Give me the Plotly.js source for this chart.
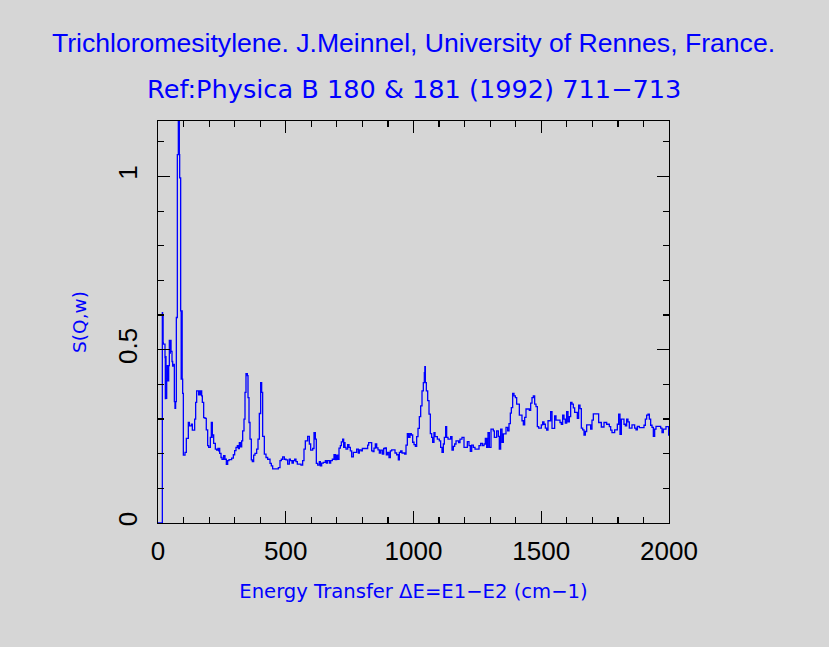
<!DOCTYPE html>
<html>
<head>
<meta charset="utf-8">
<script src="https://cdn.plot.ly/plotly-3.0.1.min.js"></script>
<style>
html,body{margin:0;padding:0;background:#d6d6d6;}
#chart{width:829px;height:647px;}
</style>
</head>
<body>
<div id="chart"></div>
<script>
// Energy transfer (cm-1), start of each step
const energy = [
0,17,18,19,20,21,27.4,28.7,30,31.3,34,36.5,39,41.8,44.4,47,48.3,51,54.8,57.4,60,64,66.5,69,71.8,75.7,79.6,80.9,82.2,83.5,84.8,88.7,90.7,92.6,94.6,96.5,99.2,
105.7,110.9,118.7,122.6,130.5,134.4,143.5,147.4,151.3,159.2,161.8,164.4,167,171,173.5,178.7,184,189,194.4,198.3,204.8,208.7,210.7,212,212.7,217.9,224.4,229.6,234.8,237.5,238.8,241.4,246.6,250.5,257,262.2,267.5,272.7,277.9,288.3,294.9,
300,305.3,310.5,314.4,318.3,323.5,327.5,331.4,336.6,340.5,344.4,349.6,352.3,356.2,360.1,365.3,369.2,374.4,379.6,386.2,391.4,396.6,401.8,405.7,409.6,416.2,422.7,429.2,438.4,443.6,448.8,471,477.5,482.7,488,494.4,
501,507.5,514,518,524.5,529.7,535,540,545.3,559.7,566.2,571.4,576.6,585.8,592.3,597.5,605.4,610.6,615.8,619.7,625,631.5,635.4,640.6,647.1,655,658.9,662.8,670.6,675.8,682.3,688.9,694.1,699.3,
703.2,708.4,713.7,717.6,722.8,726.7,729.3,731.9,735.8,742.4,747.6,752.8,758,764.5,777.6,784.1,788,794.5,799.8,820.6,824.5,836.3,841.5,845.4,850.6,855.9,861.1,866.3,871.5,878,883.3,888.5,893.7,898.9,
904.1,909.4,914.6,927.6,934.1,940.7,944.6,949.8,955,965.5,970.7,975.9,981.1,986.3,991.5,996.8,1002,1007.2,1012.4,1017.6,1022.9,1028.1,1033.3,1038.5,1042.4,1044.4,1046.4,1050.3,1055.5,1060.7,1065.9,1071.1,1075,1080.2,1084.2,1093.3,
1101.1,1106.3,1111.6,1116.8,1120.7,1125.9,1129.8,1135.1,1145.5,1150.7,1155.9,1161.1,1166.4,1176.8,1182,1189.8,1197.7,1210.7,1217.2,1222.4,1227.7,1234.2,1240.7,1256.4,1262.9,1269.4,1276,1281.2,1286.4,1291.6,1296.8,
1303.4,1312.4,1316.4,1325.5,1332,1335.9,1341.1,1346.4,1351.6,1362,1368.5,1373.8,1379,1382.9,1388.1,1393.3,1398.6,1403.8,1414.2,1424.6,1429.9,1435.1,1440.3,1453.3,1458.6,1463.8,1469,1474.2,1479.4,1484.7,1489.9,
1500.3,1505.5,1510.7,1516,1521.2,1526.4,1536.8,1542.1,1552.5,1557.7,1573.4,1578.6,1583.8,1589,1594.2,1599.5,1604.7,1609.9,1615.1,1620.3,1625.6,1630.8,1641.2,1646.4,1651.7,1656.9,1662.1,1667.3,1672.5,1677.8,1693.4,1698.6,
1703.8,1724.7,1735.1,1745.6,1756,1766.4,1771.7,1776.9,1787.3,1797.8,1803,1808.2,1813.4,1823.8,1829.1,1834.3,1839.5,1844.7,1855.2,1865.6,1870.8,1876,1883.9,
1902.1,1907.4,1912.6,1917.8,1923,1928.2,1933.5,1938.7,1943.9,1949.1,1967.4,1972.6,1977.8,1988.2,1998.7,2005
];
// S(Q,w) value of each step
const sqw = [
0,0.607,0.52,0.60,0.52,0.516,0.477,0.359,0.48,0.36,0.41,0.454,0.41,0.454,0.527,0.49,0.527,0.495,0.466,0.453,0.458,0.35,0.331,0.35,0.593,1.063,1.25,1.063,1.25,1.063,0.996,0.612,0.415,0.612,0.415,0.374,0.196,
0.204,0.244,0.29,0.28,0.285,0.268,0.3,0.348,0.381,0.37,0.381,0.37,0.381,0.367,0.348,0.304,0.302,0.269,0.223,0.218,0.247,0.29,0.247,0.29,0.254,0.23,0.213,0.21,0.215,0.208,0.215,0.201,0.189,0.184,0.194,0.184,0.169,0.18,0.183,0.187,0.197,
0.209,0.218,0.223,0.215,0.232,0.22,0.237,0.266,0.3,0.377,0.431,0.425,0.362,0.29,0.242,0.182,0.177,0.196,0.201,0.213,0.242,0.316,0.405,0.377,0.25,0.199,0.189,0.184,0.172,0.165,0.156,0.16,0.18,0.184,0.191,0.184,
0.182,0.17,0.184,0.18,0.173,0.18,0.184,0.177,0.17,0.167,0.18,0.213,0.237,0.25,0.228,0.21,0.215,0.261,0.242,0.172,0.167,0.177,0.165,0.173,0.175,0.18,0.173,0.18,0.173,0.18,0.184,0.197,0.183,0.196,
0.184,0.216,0.223,0.234,0.242,0.218,0.232,0.218,0.213,0.226,0.218,0.208,0.191,0.204,0.213,0.202,0.211,0.208,0.215,0.225,0.232,0.208,0.206,0.216,0.228,0.217,0.211,0.202,0.21,0.199,0.215,0.217,0.197,0.204,
0.189,0.208,0.211,0.202,0.197,0.182,0.204,0.208,0.202,0.199,0.225,0.258,0.247,0.258,0.254,0.233,0.226,0.221,0.249,0.273,0.307,0.338,0.381,0.405,0.434,0.451,0.405,0.381,0.353,0.314,0.258,0.247,0.233,0.261,0.249,0.242,
0.237,0.218,0.204,0.228,0.247,0.278,0.247,0.242,0.249,0.21,0.221,0.228,0.237,0.232,0.242,0.247,0.218,0.235,0.223,0.207,0.225,0.218,0.213,0.223,0.23,0.223,0.228,0.244,0.218,0.261,0.218,
0.271,0.266,0.247,0.266,0.25,0.213,0.271,0.233,0.257,0.276,0.266,0.287,0.317,0.333,0.374,0.367,0.362,0.343,0.311,0.295,0.283,0.305,0.329,0.325,0.346,0.362,0.367,0.343,0.336,0.278,0.274,
0.283,0.292,0.285,0.274,0.268,0.295,0.321,0.273,0.309,0.297,0.29,0.285,0.311,0.3,0.288,0.321,0.292,0.307,0.348,0.343,0.332,0.319,0.302,0.34,0.33,0.274,0.269,0.254,0.264,0.283,0.271,0.297,
0.315,0.29,0.277,0.29,0.285,0.278,0.268,0.261,0.269,0.285,0.314,0.256,0.3,0.285,0.28,0.3,0.292,0.274,0.283,0.274,0.269,0.279,0.275,
0.282,0.3,0.311,0.314,0.3,0.282,0.276,0.25,0.271,0.279,0.274,0.261,0.271,0.278,0.254,0.254
];
const xTickVals = [0,500,1000,1500,2000];
const xTickText = ['0','500','1000','1500','2000'];
const yTickVals = [0,0.5,1];
const yTickText = ['0','0.5','1'];

const blue = '#0000ff';
const trace = {
  x: energy, y: sqw, type: 'scatter', mode: 'lines',
  line: {shape: 'hv', color: blue, width: 1.3},
  cliponaxis: true, hoverinfo: 'skip'
};
const axisCommon = {
  showline: true, linecolor: '#000', linewidth: 1.2, mirror: 'ticks',
  ticks: 'inside', ticklen: 12, tickwidth: 1.2, tickcolor: '#000',
  showgrid: false, zeroline: false,
  tickfont: {family: 'Liberation Sans, Arial, sans-serif', size: 26, color: '#000'}
};
const layout = {
  width: 829, height: 647,
  paper_bgcolor: '#d6d6d6', plot_bgcolor: '#d6d6d6',
  margin: {l: 158, r: 160, t: 121, b: 124},
  showlegend: false,
  title: {
    text: 'Trichloromesitylene. J.Meinnel, University of Rennes, France.',
    font: {family: 'Liberation Sans, Arial, sans-serif', size: 26.6, color: blue},
    x: 0.5, xref: 'paper', xanchor: 'center', y: 1 - 43/647, yref: 'container', yanchor: 'middle'
  },
  annotations: [{
    text: 'Ref:Physica B 180 &amp; 181 (1992) 711\u2212713',
    xref: 'paper', yref: 'paper', x: 0.5, y: 1 + (121-89)/402,
    xanchor: 'center', yanchor: 'middle', showarrow: false,
    font: {family: 'DejaVu Sans, sans-serif', size: 25.6, color: blue}
  }],
  xaxis: Object.assign({}, axisCommon, {
    range: [0, 2000], tickvals: xTickVals, ticktext: xTickText,
    ticklabelstandoff: 5,
    minor: {dtick: 100, tick0: 0, ticks: 'inside', ticklen: 6, tickwidth: 1.2, tickcolor: '#000', showgrid: false},
    title: {text: 'Energy Transfer \u0394E=E1\u2212E2 (cm\u22121)', standoff: 18,
      font: {family: 'DejaVu Sans, sans-serif', size: 19.6, color: blue}}
  }),
  yaxis: Object.assign({}, axisCommon, {
    range: [0, 1.16], tickvals: yTickVals, ticktext: yTickText, tickangle: -90,
    ticklabelstandoff: 9,
    minor: {dtick: 0.1, tick0: 0, ticks: 'inside', ticklen: 6, tickwidth: 1.2, tickcolor: '#000', showgrid: false},
    title: {text: 'S(Q,w)', standoff: 22,
      font: {family: 'DejaVu Sans, sans-serif', size: 18.5, color: blue}}
  })
};
Plotly.newPlot('chart', [trace], layout, {staticPlot: true, displayModeBar: false});
</script>
</body>
</html>
